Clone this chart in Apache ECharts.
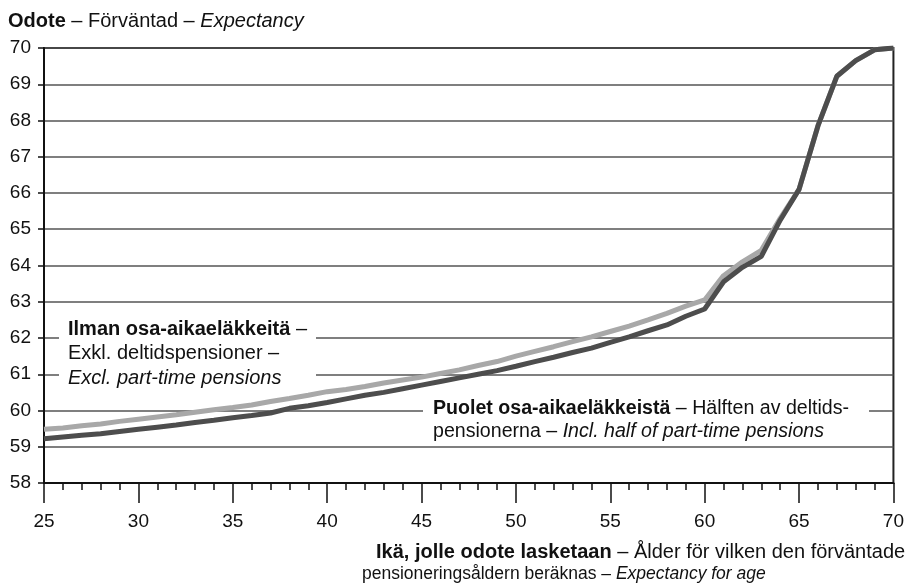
<!DOCTYPE html>
<html>
<head>
<meta charset="utf-8">
<script src="https://cdn.jsdelivr.net/npm/echarts@6/dist/echarts.min.js"></script>
<style>
  html, body { margin: 0; padding: 0; background: #fff; }
  #chart { width: 907px; height: 583px; }
</style>
</head>
<body>
<div id="chart"></div>
<script>
// ages 25..70
var ages = [25, 26, 27, 28, 29, 30, 31, 32, 33, 34, 35, 36, 37, 38, 39, 40, 41, 42, 43, 44, 45, 46, 47,
  48, 49, 50, 51, 52, 53, 54, 55, 56, 57, 58, 59, 60, 61, 62, 63, 64, 65, 66, 67, 68, 69, 70]

// Ilman osa-aikaeläkkeitä (light)
var exclPartTime = [59.48, 59.52, 59.58, 59.63, 59.70, 59.76, 59.82, 59.88, 59.95, 60.02, 60.08, 60.15,
  60.25, 60.33, 60.42, 60.52, 60.58, 60.66, 60.76, 60.84, 60.92, 61.02, 61.12, 61.24, 61.35, 61.50,
  61.63, 61.76, 61.90, 62.03, 62.18, 62.33, 62.50, 62.68, 62.88, 63.05, 63.72, 64.10, 64.42, 65.30,
  66.10, 67.85, 69.22, 69.65, 69.95, 70.00]

// Puolet osa-aikaeläkkeistä (dark)
var inclHalf = [59.22, 59.27, 59.32, 59.36, 59.42, 59.48, 59.54, 59.60, 59.67, 59.73, 59.80, 59.86,
  59.93, 60.06, 60.13, 60.22, 60.32, 60.42, 60.50, 60.60, 60.70, 60.80, 60.90, 61.00, 61.10, 61.22,
  61.35, 61.47, 61.60, 61.72, 61.88, 62.03, 62.20, 62.36, 62.60, 62.80, 63.55, 63.95, 64.25, 65.25,
  66.10, 67.85, 69.22, 69.65, 69.95, 70.00]

var xTickLabels = [25, 30, 35, 40, 45, 50, 55, 60, 65, 70]

var fontFamily = 'Arial, "Liberation Sans", sans-serif'
var chart = echarts.init(document.getElementById('chart'))

function pairs(values) {
  return ages.map(function(a, i) { return [a, values[i]] })
}

function richText(size, lh) {
  return {
    b: { fontWeight: 'bold', fontSize: size, lineHeight: lh, fontFamily: fontFamily },
    i: { fontStyle: 'italic', fontSize: size, lineHeight: lh, fontFamily: fontFamily }
  }
}

chart.setOption({
  animation: false,
  textStyle: { fontFamily: fontFamily },
  grid: {
    left: 44,
    right: 13,
    top: 48,
    bottom: 100,
    show: true,
    borderColor: '#222',
    borderWidth: 2
  },
  xAxis: {
    type: 'value',
    min: 25,
    max: 70,
    interval: 5,
    axisLine: { lineStyle: { color: '#111', width: 2 } },
    axisTick: { show: true, length: 20, lineStyle: { color: '#111', width: 1.5 } },
    minorTick: { show: true, splitNumber: 5, length: 7, lineStyle: { color: '#111', width: 1.5 } },
    axisLabel: {
      margin: 29,
      fontSize: 19,
      color: '#111',
      fontFamily: fontFamily,
      formatter: function(v) { return xTickLabels.indexOf(v) >= 0 ? String(v) : '' }
    },
    splitLine: { show: false }
  },
  yAxis: {
    type: 'value',
    min: 58,
    max: 70,
    interval: 1,
    axisLine: { show: true, lineStyle: { color: '#111', width: 2 } },
    axisTick: { show: true, length: 6, lineStyle: { color: '#111', width: 1.5 } },
    axisLabel: { margin: 13, fontSize: 19, color: '#111', fontFamily: fontFamily },
    splitLine: { show: true, lineStyle: { color: '#555', width: 1.5 } }
  },
  series: [
    {
      name: 'Ilman osa-aikaeläkkeitä',
      type: 'line',
      data: pairs(exclPartTime),
      showSymbol: false,
      lineStyle: { color: '#a8a8a8', width: 5 },
      itemStyle: { color: '#a8a8a8' },
      z: 2
    },
    {
      name: 'Puolet osa-aikaeläkkeistä',
      type: 'line',
      data: pairs(inclHalf),
      showSymbol: false,
      lineStyle: { color: '#4d4d4d', width: 5 },
      itemStyle: { color: '#4d4d4d' },
      z: 3
    }
  ],
  graphic: [
    {
      type: 'text',
      left: 8,
      top: 9,
      style: {
        text: '{b|Odote} – Förväntad – {i|Expectancy}',
        font: '20px ' + fontFamily,
        lineHeight: 24,
        fill: '#111',
        rich: richText(20, 24)
      }
    },
    {
      type: 'rect',
      shape: { x: 59, y: 314, width: 257, height: 76 },
      style: { fill: '#fff' },
      z: 10
    },
    {
      type: 'text',
      left: 68,
      top: 317,
      z: 11,
      style: {
        text: '{b|Ilman osa-aikaeläkkeitä} –\nExkl. deltidspensioner –\n{i|Excl. part-time pensions}',
        font: '20px ' + fontFamily,
        lineHeight: 24.5,
        fill: '#111',
        rich: richText(20, 24.5)
      }
    },
    {
      type: 'rect',
      shape: { x: 423, y: 398, width: 446, height: 46 },
      style: { fill: '#fff' },
      z: 10
    },
    {
      type: 'text',
      left: 433,
      top: 397,
      z: 11,
      style: {
        text: '{b|Puolet osa-aikaeläkkeistä} – Hälften av deltids-\npensionerna – {i|Incl. half of part-time pensions}',
        font: '19.6px ' + fontFamily,
        lineHeight: 23,
        fill: '#111',
        rich: richText(19.6, 23)
      }
    },
    {
      type: 'text',
      left: 376,
      top: 541,
      style: {
        text: '{b|Ikä, jolle odote lasketaan} – Ålder för vilken den förväntade',
        font: '20px ' + fontFamily,
        lineHeight: 22,
        fill: '#111',
        rich: richText(20, 22)
      }
    },
    {
      type: 'text',
      left: 362,
      top: 564,
      style: {
        text: 'pensioneringsåldern beräknas – {i|Expectancy for age}',
        font: '17.5px ' + fontFamily,
        lineHeight: 20,
        fill: '#111',
        rich: richText(17.5, 20)
      }
    }
  ]
})
</script>
</body>
</html>
